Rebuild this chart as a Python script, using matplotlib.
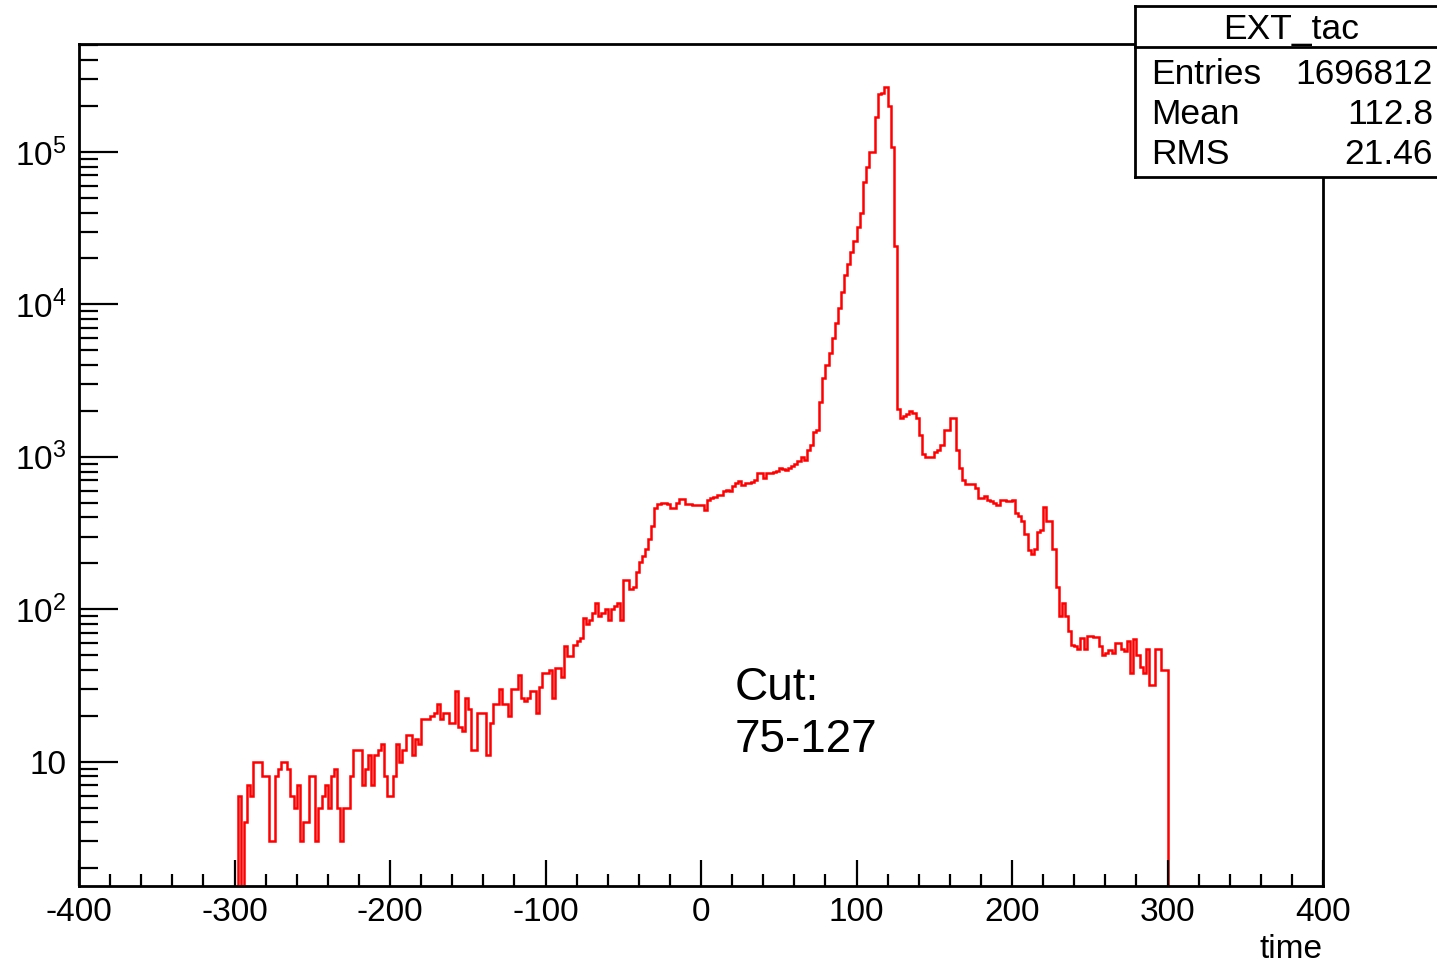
import numpy as np
import matplotlib
matplotlib.use("Agg")
import matplotlib.pyplot as plt
from matplotlib.ticker import LogLocator, MultipleLocator, FuncFormatter
from matplotlib.lines import Line2D

# histogram EXT_tac : 300 bins of width 2 between -300 and 300
bin_lo = -300
bin_hi = 300
n_bins = 300
counts = [
    0, 6, 0, 4, 7, 6, 10, 10, 10, 8,
    8, 3, 3, 8, 9, 10, 10, 9, 6, 5,
    7, 3, 4, 4, 8, 8, 3, 5, 6, 7,
    5, 8, 9, 5, 3, 5, 5, 8, 12, 12,
    12, 7, 9, 11, 7, 11, 12, 13, 8, 6,
    6, 8, 13, 10, 12, 15, 15, 11, 14, 13,
    19, 19, 19, 20, 21, 24, 19, 21, 21, 18,
    18, 29, 17, 16, 26, 22, 12, 12, 21, 21,
    21, 11, 18, 24, 24, 30, 24, 24, 20, 30,
    30, 37, 26, 25, 26, 29, 29, 21, 31, 38,
    38, 40, 26, 41, 41, 36, 57, 49, 49, 58,
    62, 65, 88, 80, 85, 94, 110, 90, 95, 100,
    85, 100, 105, 110, 85, 155, 155, 135, 140, 175,
    205, 225, 250, 290, 350, 460, 490, 500, 500, 490,
    460, 460, 500, 530, 530, 490, 490, 480, 480, 480,
    480, 450, 520, 540, 545, 560, 560, 600, 610, 600,
    640, 670, 690, 650, 670, 670, 680, 700, 780, 780,
    730, 780, 780, 800, 810, 840, 830, 820, 850, 870,
    900, 940, 1000, 950, 1100, 1200, 1450, 1500, 2300, 3300,
    4000, 4800, 6000, 7500, 9500, 12000, 15500, 18500, 22000, 26000,
    32000, 40000, 63000, 80000, 100000, 100000, 170000, 240000, 245000, 265000,
    200000, 108000, 24000, 2050, 1800, 1850, 1900, 2000, 1950, 1800,
    1400, 1050, 1000, 1000, 1000, 1080, 1100, 1200, 1500, 1500,
    1800, 1800, 1100, 850, 700, 660, 660, 660, 620, 540,
    540, 550, 520, 510, 500, 480, 520, 520, 515, 515,
    520, 430, 410, 380, 310, 245, 230, 250, 320, 330,
    470, 380, 380, 250, 140, 90, 110, 90, 72, 58,
    57, 55, 65, 55, 67, 67, 66, 66, 57, 50,
    52, 54, 52, 60, 60, 55, 53, 62, 38, 64,
    50, 42, 38, 55, 32, 32, 55, 55, 40, 40,
]

hist_name = "EXT_tac"
stat_names = ["Entries", "Mean", "RMS"]
stat_values = ["1696812", "112.8", "21.46"]
cut_lines = ["Cut:", "75-127"]
x_title = "time"

plt.rcParams['font.family'] = ['Liberation Sans', 'DejaVu Sans']
plt.rcParams['mathtext.fontset'] = 'custom'
plt.rcParams['mathtext.rm'] = 'Liberation Sans'
plt.rcParams['mathtext.it'] = 'Liberation Sans:italic'
plt.rcParams['mathtext.bf'] = 'Liberation Sans:bold'
plt.rcParams['axes.unicode_minus'] = False  # plain hyphen like ROOT

W, H = 1437, 964
fig = plt.figure(figsize=(W / 100, H / 100), dpi=100)

# frame from px 79..1323 horizontally, 44..886 vertically
ax = fig.add_axes([79 / W, 1 - 886 / H, (1323 - 79) / W, (886 - 44) / H])

edges = np.linspace(bin_lo, bin_hi, n_bins + 1)
vals = np.clip(np.array(counts, dtype=float), 0.5, None)  # empty bins go below the frame
ax.stairs(vals, edges, baseline=0.5, color='red', lw=1.8)

ax.set_yscale('log')
ax.set_xlim(-400, 400)
ax.set_ylim(1.53, 5.1e5)

ax.xaxis.set_major_locator(MultipleLocator(100))
ax.xaxis.set_minor_locator(MultipleLocator(20))
ax.yaxis.set_major_locator(LogLocator(base=10, numticks=20))
ax.yaxis.set_minor_locator(LogLocator(base=10, subs=np.arange(2, 10), numticks=20))


def log_label(v, pos):
    n = int(round(np.log10(v)))
    if n == 1:
        return "10"
    return r"$10^{%d}$" % n


ax.yaxis.set_major_formatter(FuncFormatter(log_label))

ax.tick_params(which='both', direction='in', top=False, right=False, width=1.6, labelsize=24)
ax.tick_params(axis='x', which='major', length=18.7, pad=8)
ax.tick_params(axis='x', which='minor', length=8.6)
ax.tick_params(axis='y', which='major', length=28, pad=9)
ax.tick_params(axis='y', which='minor', length=13.7)
for sp in ax.spines.values():
    sp.set_linewidth(2)

ax.set_xlabel(x_title, loc='right', fontsize=24, labelpad=4)

# cut annotation
fig.text(735 / W, 1 - 700 / H, cut_lines[0], fontsize=33, va='baseline', ha='left')
fig.text(735 / W, 1 - 752 / H, cut_lines[1], fontsize=33, va='baseline', ha='left')

# stats box (runs past the right edge of the picture)
box = fig.add_axes([1135 / W, 1 - 177 / H, 330 / W, (177 - 6) / H])
box.set_xticks([])
box.set_yticks([])
box.set_facecolor('white')
for sp in box.spines.values():
    sp.set_linewidth(2)
fig.add_artist(Line2D([1135 / W, 1.0], [1 - 47 / H, 1 - 47 / H], color='black', lw=2))

fig.text(1291 / W, 1 - 29 / H, hist_name, fontsize=25.5, ha='center', va='center')
row_y = [74, 114, 155]
for name, val, yy in zip(stat_names, stat_values, row_y):
    fig.text(1151 / W, 1 - yy / H, name, fontsize=25.5, ha='left', va='center')
    fig.text(1433 / W, 1 - yy / H, val, fontsize=25.5, ha='right', va='center')

fig.savefig("out.png", dpi=100)
